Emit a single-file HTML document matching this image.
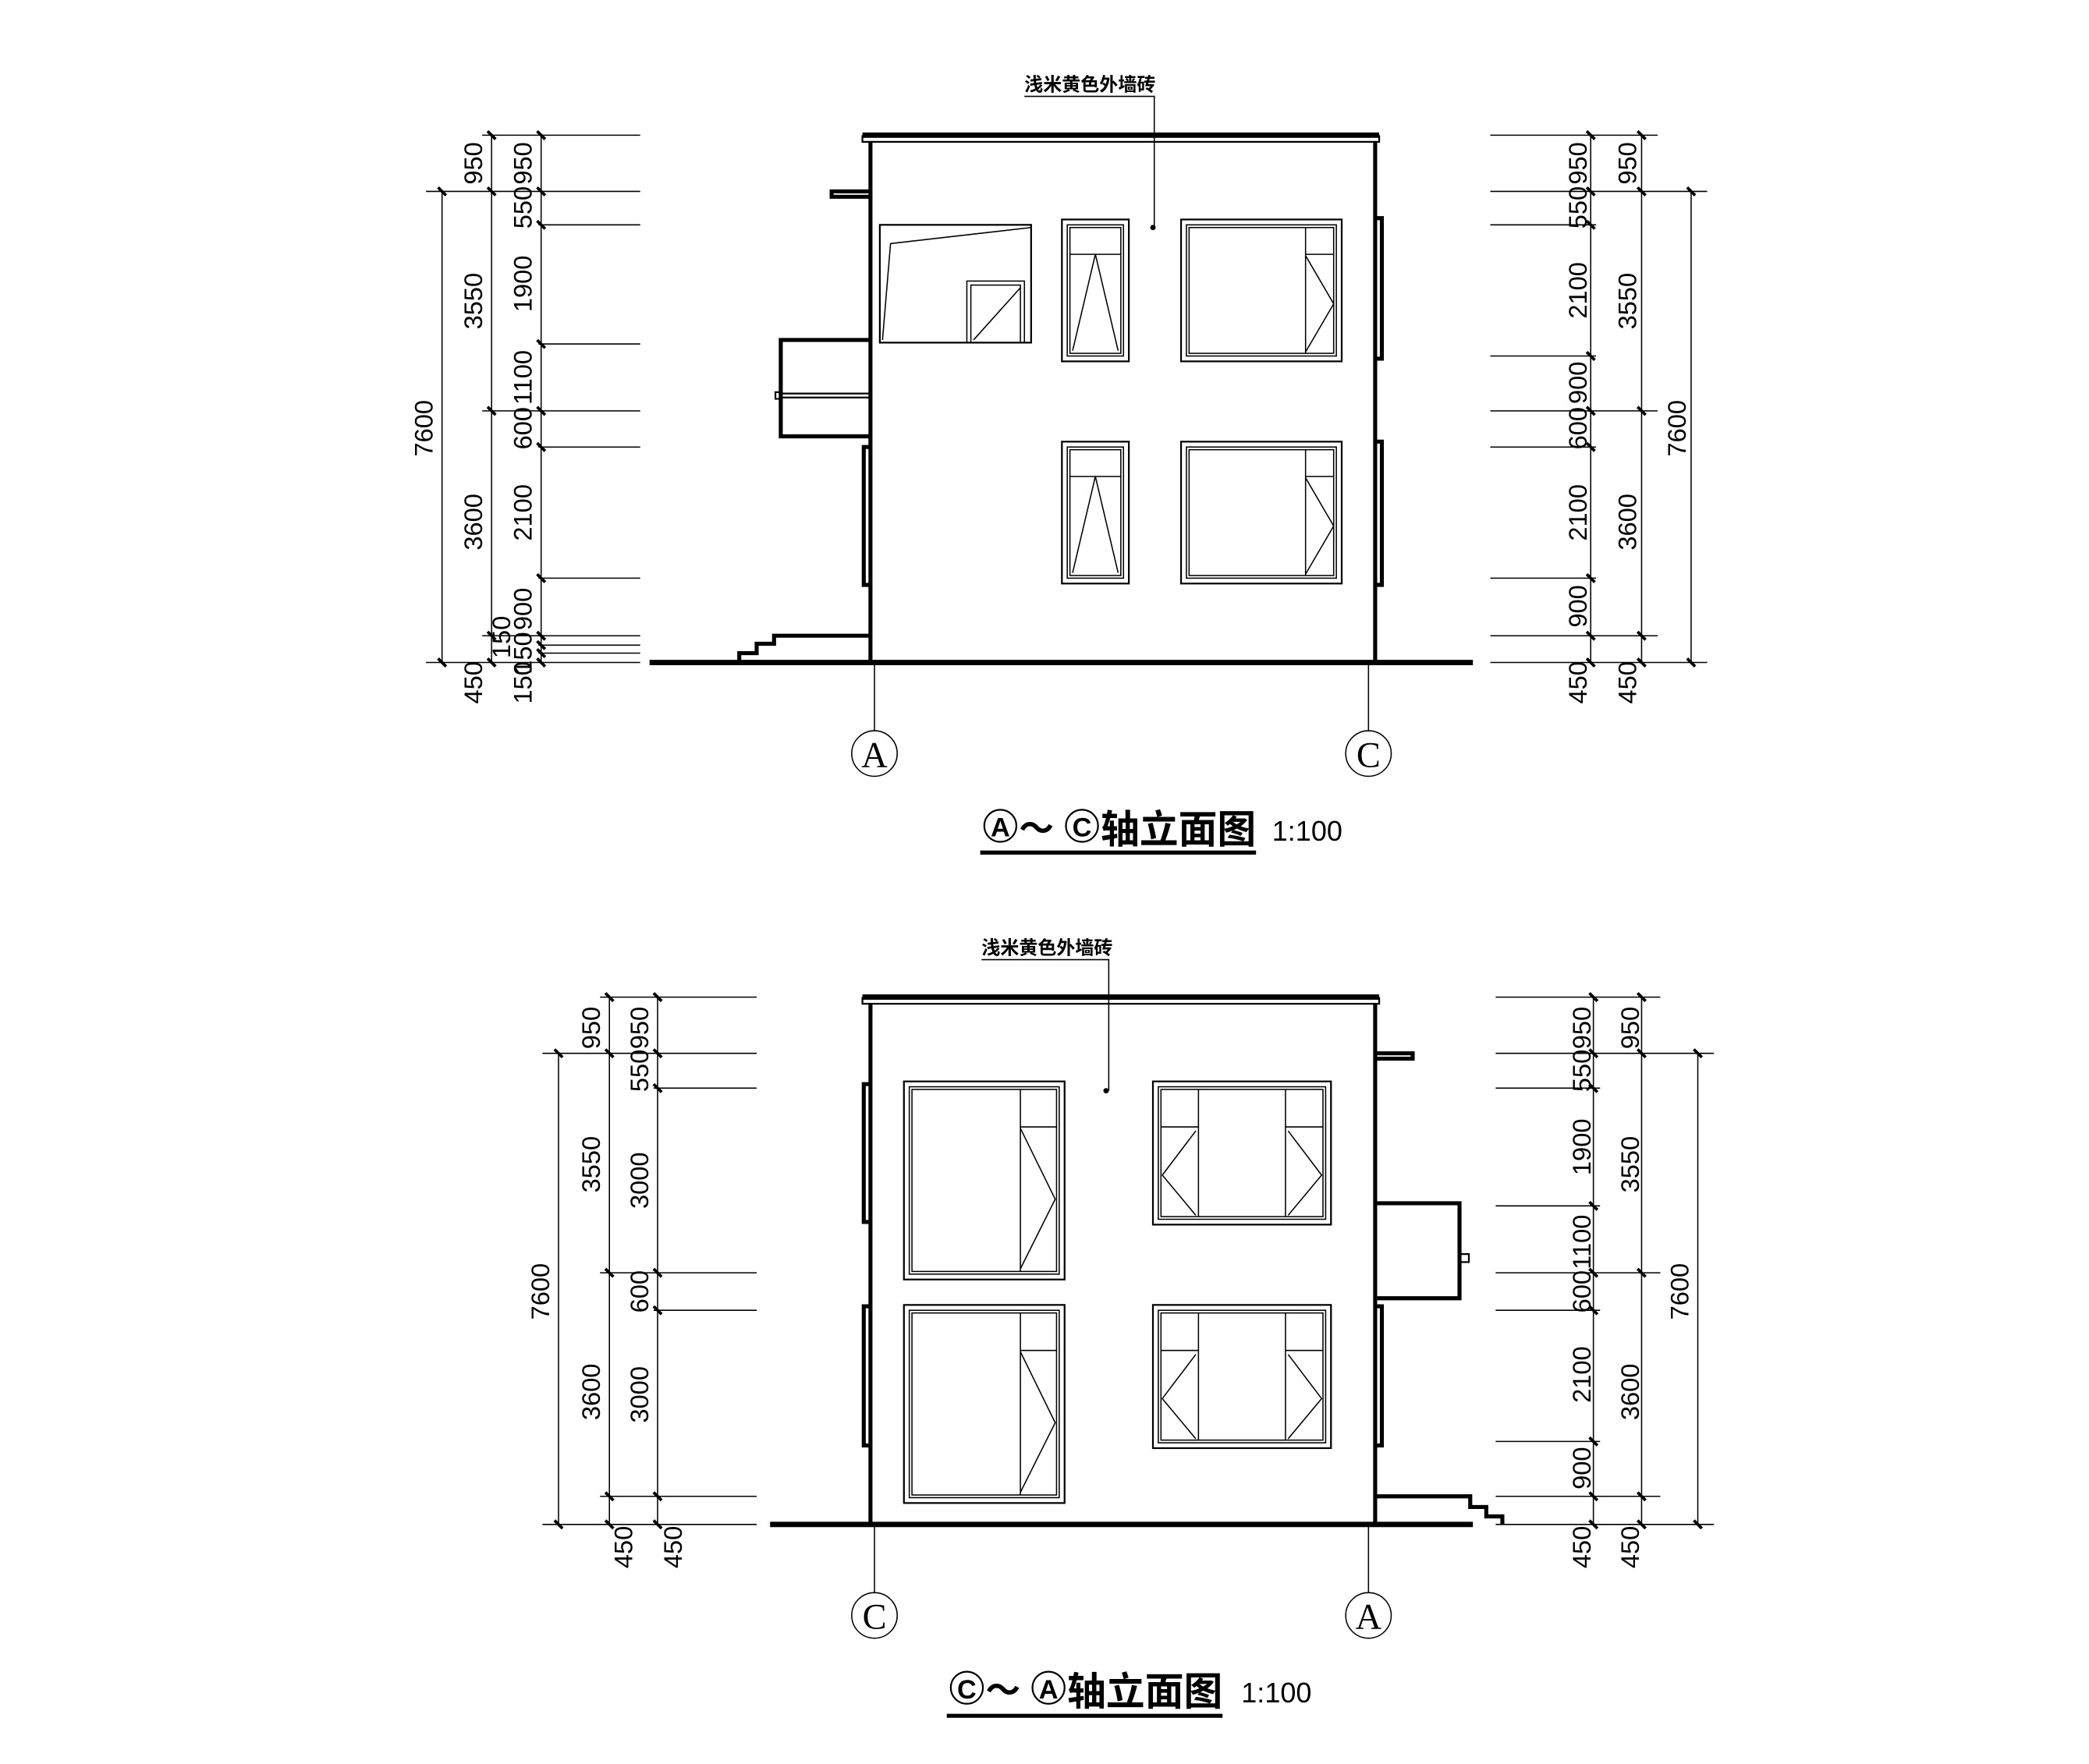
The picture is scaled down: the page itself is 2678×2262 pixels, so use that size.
<!DOCTYPE html>
<html><head><meta charset="utf-8"><style>
html,body{margin:0;padding:0;background:#fff;width:2678px;height:2262px;overflow:hidden}
svg{display:block}
text{font-family:"Liberation Sans","Noto Sans CJK SC",sans-serif;fill:#000}
.d{font-size:19px;}
.t{stroke:#000;stroke-width:2.2}
.n{stroke:#000;stroke-width:0.9;fill:none}
.w{stroke:#000;stroke-width:3;fill:none}
.m{stroke:#000;stroke-width:1.3;fill:none}
</style></head><body>
<svg width="2678" height="2262" viewBox="0 0 1560 1318" xmlns="http://www.w3.org/2000/svg">
<defs>
<g id="tk"><line x1="-3" y1="-3" x2="3" y2="3" class="t"/></g>
</defs>
<!-- ========== TOP DRAWING ========== -->
<g>
<!-- roof -->
<line x1="644" y1="101" x2="1030" y2="101" stroke="#000" stroke-width="4"/>
<polyline points="644,101 644,106 1030,106 1030,101" class="m"/>
<line x1="650" y1="106" x2="650" y2="495" class="w"/>
<line x1="1027" y1="106" x2="1027" y2="495" class="w"/>
<line x1="485" y1="495" x2="1100" y2="495" stroke="#000" stroke-width="4"/>
<!-- ledge -->
<polyline points="650,143 621,143 621,147 650,147" class="w" stroke-width="2.2"/>
<!-- porch -->
<polyline points="650,254 583,254 583,326 650,326" class="w"/>
<polyline points="583,293 579,293 579,298 583,298" class="m"/>
<line x1="583" y1="294" x2="650" y2="294" class="m"/>
<line x1="583" y1="297" x2="650" y2="297" class="m"/>
<!-- pilasters -->
<polyline points="650,334 645,334 645,437 650,437" class="w" stroke-width="2"/>
<polyline points="1027,163 1032,163 1032,268 1027,268" class="w" stroke-width="2"/>
<polyline points="1027,330 1032,330 1032,437 1027,437" class="w" stroke-width="2"/>
<!-- stairs -->
<polyline points="552,495 552,488 565,488 565,481 578,481 578,475 650,475" class="w"/>
<!-- window 1 -->
<rect x="657" y="168" width="113" height="88" class="m" stroke-width="1.8"/>
<polyline points="659,254 665,182 770,170" class="n"/>
<rect x="722" y="210" width="43" height="46" class="n"/>
<rect x="725" y="213" width="37" height="43" class="n"/>
<line x1="727" y1="254" x2="762" y2="215" class="n"/>
<!-- window 2 top -->
<g id="win2">
<rect x="793" y="164" width="50" height="106" class="m" stroke-width="1.8"/>
<rect x="797" y="168" width="42" height="98" class="n"/>
<rect x="799" y="170" width="38" height="94" class="n"/>
<line x1="799" y1="190" x2="837" y2="190" class="n"/>
<polyline points="801,262 818,190 835,262" class="n"/>
</g>
<!-- window 3 top -->
<g id="win3">
<rect x="882" y="164" width="120" height="106" class="m" stroke-width="1.8"/>
<rect x="886" y="168" width="112" height="98" class="n"/>
<rect x="888" y="170" width="108" height="94" class="n"/>
<line x1="975" y1="170" x2="975" y2="264" class="n"/>
<line x1="975" y1="190" x2="996" y2="190" class="n"/>
<polyline points="975,191 996,227 975,263" class="n"/>
</g>
<use href="#win2" y="166"/>
<use href="#win3" y="166"/>
<!-- label -->
<text x="765" y="68" style="font-size:14px;font-weight:bold">浅米黄色外墙砖</text>
<polyline points="765,72 862,72 862,170" class="n"/>
<circle cx="861" cy="170" r="2" fill="#000"/>
<!-- axes -->
<line x1="653" y1="495" x2="653" y2="546" class="n"/>
<circle cx="653" cy="563" r="17" class="n"/>
<text x="653" y="573" text-anchor="middle" style="font-family:'Liberation Serif',serif;font-size:27px">A</text>
<line x1="1022" y1="495" x2="1022" y2="546" class="n"/>
<circle cx="1022" cy="563" r="17" class="n"/>
<text x="1022" y="573" text-anchor="middle" style="font-family:'Liberation Serif',serif;font-size:27px">C</text>
<!-- title -->
<circle cx="747" cy="617" r="12" class="m" stroke-width="2"/>
<text x="747" y="625" text-anchor="middle" style="font-size:20px;font-weight:bold">A</text>
<text x="761" y="628" style="font-size:26px;font-weight:bold">～</text>
<circle cx="808" cy="617" r="12" class="m" stroke-width="2"/>
<text x="808" y="625" text-anchor="middle" style="font-size:20px;font-weight:bold">C</text>
<text x="822" y="630" style="font-size:29px;font-weight:bold">轴立面图</text>
<text x="950" y="628" style="font-size:21px">1:100</text>
<line x1="732" y1="637" x2="938" y2="637" stroke="#000" stroke-width="3"/>
<!-- left dims -->
<g class="n">
<line x1="330" y1="143" x2="330" y2="495"/>
<line x1="367" y1="101" x2="367" y2="495"/>
<line x1="404" y1="101" x2="404" y2="495"/>
<line x1="360" y1="101" x2="478" y2="101"/>
<line x1="318" y1="143" x2="478" y2="143"/>
<line x1="402" y1="168" x2="478" y2="168"/>
<line x1="402" y1="257" x2="478" y2="257"/>
<line x1="360" y1="307" x2="478" y2="307"/>
<line x1="402" y1="334" x2="478" y2="334"/>
<line x1="402" y1="432" x2="478" y2="432"/>
<line x1="360" y1="475" x2="478" y2="475"/>
<line x1="402" y1="482" x2="478" y2="482"/>
<line x1="402" y1="488" x2="478" y2="488"/>
<line x1="318" y1="495" x2="478" y2="495"/>
</g>
<use href="#tk" x="330" y="143"/><use href="#tk" x="330" y="495"/>
<use href="#tk" x="367" y="101"/><use href="#tk" x="367" y="143"/><use href="#tk" x="367" y="307"/><use href="#tk" x="367" y="475"/><use href="#tk" x="367" y="495"/>
<use href="#tk" x="404" y="101"/><use href="#tk" x="404" y="143"/><use href="#tk" x="404" y="168"/><use href="#tk" x="404" y="257"/><use href="#tk" x="404" y="307"/><use href="#tk" x="404" y="334"/><use href="#tk" x="404" y="432"/><use href="#tk" x="404" y="475"/><use href="#tk" x="404" y="482"/><use href="#tk" x="404" y="488"/><use href="#tk" x="404" y="495"/>
<g class="d" text-anchor="middle">
<text transform="translate(323,320) rotate(-90)">7600</text>
<text transform="translate(360,122) rotate(-90)">950</text>
<text transform="translate(360,225) rotate(-90)">3550</text>
<text transform="translate(360,390) rotate(-90)">3600</text>
<text transform="translate(360,510) rotate(-90)">450</text>
<text transform="translate(397,122) rotate(-90)">950</text>
<text transform="translate(397,155) rotate(-90)">550</text>
<text transform="translate(397,212) rotate(-90)">1900</text>
<text transform="translate(397,282) rotate(-90)">1100</text>
<text transform="translate(397,320) rotate(-90)">600</text>
<text transform="translate(397,383) rotate(-90)">2100</text>
<text transform="translate(397,455) rotate(-90)">900</text>
<text transform="translate(381,476) rotate(-90)">150</text>
<text transform="translate(397,488) rotate(-90)">150</text>
<text transform="translate(397,510) rotate(-90)">150</text>
</g>
<!-- right dims -->
<g class="n">
<line x1="1188" y1="101" x2="1188" y2="495"/>
<line x1="1226" y1="101" x2="1226" y2="495"/>
<line x1="1263" y1="143" x2="1263" y2="495"/>
<line x1="1113" y1="101" x2="1238" y2="101"/>
<line x1="1113" y1="143" x2="1275" y2="143"/>
<line x1="1113" y1="168" x2="1192" y2="168"/>
<line x1="1113" y1="266" x2="1192" y2="266"/>
<line x1="1113" y1="307" x2="1238" y2="307"/>
<line x1="1113" y1="334" x2="1192" y2="334"/>
<line x1="1113" y1="432" x2="1192" y2="432"/>
<line x1="1113" y1="475" x2="1238" y2="475"/>
<line x1="1113" y1="495" x2="1275" y2="495"/>
</g>
<use href="#tk" x="1188" y="101"/><use href="#tk" x="1188" y="143"/><use href="#tk" x="1188" y="168"/><use href="#tk" x="1188" y="266"/><use href="#tk" x="1188" y="307"/><use href="#tk" x="1188" y="334"/><use href="#tk" x="1188" y="432"/><use href="#tk" x="1188" y="475"/><use href="#tk" x="1188" y="495"/>
<use href="#tk" x="1226" y="101"/><use href="#tk" x="1226" y="143"/><use href="#tk" x="1226" y="307"/><use href="#tk" x="1226" y="475"/><use href="#tk" x="1226" y="495"/>
<use href="#tk" x="1263" y="143"/><use href="#tk" x="1263" y="495"/>
<g class="d" text-anchor="middle">
<text transform="translate(1185,122) rotate(-90)">950</text>
<text transform="translate(1185,155) rotate(-90)">550</text>
<text transform="translate(1185,217) rotate(-90)">2100</text>
<text transform="translate(1185,286) rotate(-90)">900</text>
<text transform="translate(1185,320) rotate(-90)">600</text>
<text transform="translate(1185,383) rotate(-90)">2100</text>
<text transform="translate(1185,453) rotate(-90)">900</text>
<text transform="translate(1185,510) rotate(-90)">450</text>
<text transform="translate(1222,122) rotate(-90)">950</text>
<text transform="translate(1222,225) rotate(-90)">3550</text>
<text transform="translate(1222,390) rotate(-90)">3600</text>
<text transform="translate(1222,510) rotate(-90)">450</text>
<text transform="translate(1259,320) rotate(-90)">7600</text>
</g>
</g>

<!-- ========== BOTTOM DRAWING ========== -->
<g>
<line x1="644" y1="745" x2="1030" y2="745" stroke="#000" stroke-width="4"/>
<polyline points="644,745 644,750 1030,750 1030,745" class="m"/>
<line x1="650" y1="750" x2="650" y2="1139" class="w"/>
<line x1="1027" y1="750" x2="1027" y2="1139" class="w"/>
<line x1="575" y1="1139" x2="1100" y2="1139" stroke="#000" stroke-width="4"/>
<polyline points="1027,787 1055,787 1055,791 1027,791" class="w" stroke-width="2.2"/>
<polyline points="1027,899 1090,899 1090,970 1027,970" class="w"/>
<polyline points="1090,937 1097,937 1097,943 1090,943" class="m"/>
<polyline points="650,810 645,810 645,913 650,913" class="w" stroke-width="2"/>
<polyline points="650,976 645,976 645,1080 650,1080" class="w" stroke-width="2"/>
<polyline points="1027,976 1032,976 1032,1080 1027,1080" class="w" stroke-width="2"/>
<polyline points="1027,1118 1098,1118 1098,1126 1110,1126 1110,1133 1122,1133 1122,1139" class="w"/>
<g id="wbig">
<rect x="675" y="808" width="120" height="148" class="m" stroke-width="1.8"/>
<rect x="679" y="812" width="112" height="140" class="n"/>
<rect x="681" y="814" width="108" height="136" class="n"/>
<line x1="762" y1="814" x2="762" y2="950" class="n"/>
<line x1="762" y1="842" x2="789" y2="842" class="n"/>
<polyline points="762,843 788,896 762,948" class="n"/>
</g>
<use href="#wbig" y="167"/>
<g id="wdbl">
<rect x="861" y="808" width="133" height="107" class="m" stroke-width="1.8"/>
<rect x="865" y="812" width="125" height="99" class="n"/>
<rect x="867" y="814" width="121" height="95" class="n"/>
<line x1="895" y1="814" x2="895" y2="909" class="n"/>
<line x1="960" y1="814" x2="960" y2="909" class="n"/>
<line x1="867" y1="842" x2="895" y2="842" class="n"/>
<line x1="960" y1="842" x2="988" y2="842" class="n"/>
<polyline points="893,845 868,878 893,908" class="n"/>
<polyline points="962,845 987,878 962,908" class="n"/>
</g>
<use href="#wdbl" y="167"/>
<text x="733" y="713" style="font-size:14px;font-weight:bold">浅米黄色外墙砖</text>
<polyline points="733,717 828,717 828,815" class="n"/>
<circle cx="826" cy="815" r="2" fill="#000"/>
<line x1="653" y1="1139" x2="653" y2="1190" class="n"/>
<circle cx="653" cy="1207" r="17" class="n"/>
<text x="653" y="1217" text-anchor="middle" style="font-family:'Liberation Serif',serif;font-size:27px">C</text>
<line x1="1022" y1="1139" x2="1022" y2="1190" class="n"/>
<circle cx="1022" cy="1207" r="17" class="n"/>
<text x="1022" y="1217" text-anchor="middle" style="font-family:'Liberation Serif',serif;font-size:27px">A</text>
<circle cx="722" cy="1261" r="12" class="m" stroke-width="2"/>
<text x="722" y="1269" text-anchor="middle" style="font-size:20px;font-weight:bold">C</text>
<text x="736" y="1272" style="font-size:26px;font-weight:bold">～</text>
<circle cx="783" cy="1261" r="12" class="m" stroke-width="2"/>
<text x="783" y="1269" text-anchor="middle" style="font-size:20px;font-weight:bold">A</text>
<text x="797" y="1274" style="font-size:29px;font-weight:bold">轴立面图</text>
<text x="927" y="1272" style="font-size:21px">1:100</text>
<line x1="707" y1="1282" x2="913" y2="1282" stroke="#000" stroke-width="3"/>
<!-- left dims -->
<g class="n">
<line x1="417" y1="787" x2="417" y2="1139"/>
<line x1="455" y1="745" x2="455" y2="1139"/>
<line x1="491" y1="745" x2="491" y2="1139"/>
<line x1="448" y1="745" x2="565" y2="745"/>
<line x1="405" y1="787" x2="565" y2="787"/>
<line x1="488" y1="813" x2="565" y2="813"/>
<line x1="448" y1="951" x2="565" y2="951"/>
<line x1="488" y1="979" x2="565" y2="979"/>
<line x1="448" y1="1118" x2="565" y2="1118"/>
<line x1="405" y1="1139" x2="565" y2="1139"/>
</g>
<use href="#tk" x="417" y="787"/><use href="#tk" x="417" y="1139"/>
<use href="#tk" x="455" y="745"/><use href="#tk" x="455" y="787"/><use href="#tk" x="455" y="951"/><use href="#tk" x="455" y="1118"/><use href="#tk" x="455" y="1139"/>
<use href="#tk" x="491" y="745"/><use href="#tk" x="491" y="787"/><use href="#tk" x="491" y="813"/><use href="#tk" x="491" y="951"/><use href="#tk" x="491" y="979"/><use href="#tk" x="491" y="1118"/><use href="#tk" x="491" y="1139"/>
<g class="d" text-anchor="middle">
<text transform="translate(410,965) rotate(-90)">7600</text>
<text transform="translate(448,768) rotate(-90)">950</text>
<text transform="translate(448,870) rotate(-90)">3550</text>
<text transform="translate(448,1040) rotate(-90)">3600</text>
<text transform="translate(472,1156) rotate(-90)">450</text>
<text transform="translate(484,768) rotate(-90)">950</text>
<text transform="translate(484,800) rotate(-90)">550</text>
<text transform="translate(484,882) rotate(-90)">3000</text>
<text transform="translate(484,965) rotate(-90)">600</text>
<text transform="translate(484,1042) rotate(-90)">3000</text>
<text transform="translate(509,1156) rotate(-90)">450</text>
</g>
<!-- right dims -->
<g class="n">
<line x1="1190" y1="745" x2="1190" y2="1139"/>
<line x1="1226" y1="745" x2="1226" y2="1139"/>
<line x1="1268" y1="787" x2="1268" y2="1139"/>
<line x1="1117" y1="745" x2="1240" y2="745"/>
<line x1="1117" y1="787" x2="1280" y2="787"/>
<line x1="1117" y1="813" x2="1195" y2="813"/>
<line x1="1117" y1="901" x2="1195" y2="901"/>
<line x1="1117" y1="951" x2="1240" y2="951"/>
<line x1="1117" y1="979" x2="1195" y2="979"/>
<line x1="1117" y1="1077" x2="1195" y2="1077"/>
<line x1="1117" y1="1118" x2="1240" y2="1118"/>
<line x1="1117" y1="1139" x2="1280" y2="1139"/>
</g>
<use href="#tk" x="1190" y="745"/><use href="#tk" x="1190" y="787"/><use href="#tk" x="1190" y="813"/><use href="#tk" x="1190" y="901"/><use href="#tk" x="1190" y="951"/><use href="#tk" x="1190" y="979"/><use href="#tk" x="1190" y="1077"/><use href="#tk" x="1190" y="1118"/><use href="#tk" x="1190" y="1139"/>
<use href="#tk" x="1226" y="745"/><use href="#tk" x="1226" y="787"/><use href="#tk" x="1226" y="951"/><use href="#tk" x="1226" y="1118"/><use href="#tk" x="1226" y="1139"/>
<use href="#tk" x="1268" y="787"/><use href="#tk" x="1268" y="1139"/>
<g class="d" text-anchor="middle">
<text transform="translate(1188,768) rotate(-90)">950</text>
<text transform="translate(1188,800) rotate(-90)">550</text>
<text transform="translate(1188,857) rotate(-90)">1900</text>
<text transform="translate(1188,928) rotate(-90)">1100</text>
<text transform="translate(1188,965) rotate(-90)">600</text>
<text transform="translate(1188,1027) rotate(-90)">2100</text>
<text transform="translate(1188,1097) rotate(-90)">900</text>
<text transform="translate(1188,1156) rotate(-90)">450</text>
<text transform="translate(1224,768) rotate(-90)">950</text>
<text transform="translate(1224,870) rotate(-90)">3550</text>
<text transform="translate(1224,1040) rotate(-90)">3600</text>
<text transform="translate(1224,1156) rotate(-90)">450</text>
<text transform="translate(1261,965) rotate(-90)">7600</text>
</g>
</g>
</svg>
</body></html>
